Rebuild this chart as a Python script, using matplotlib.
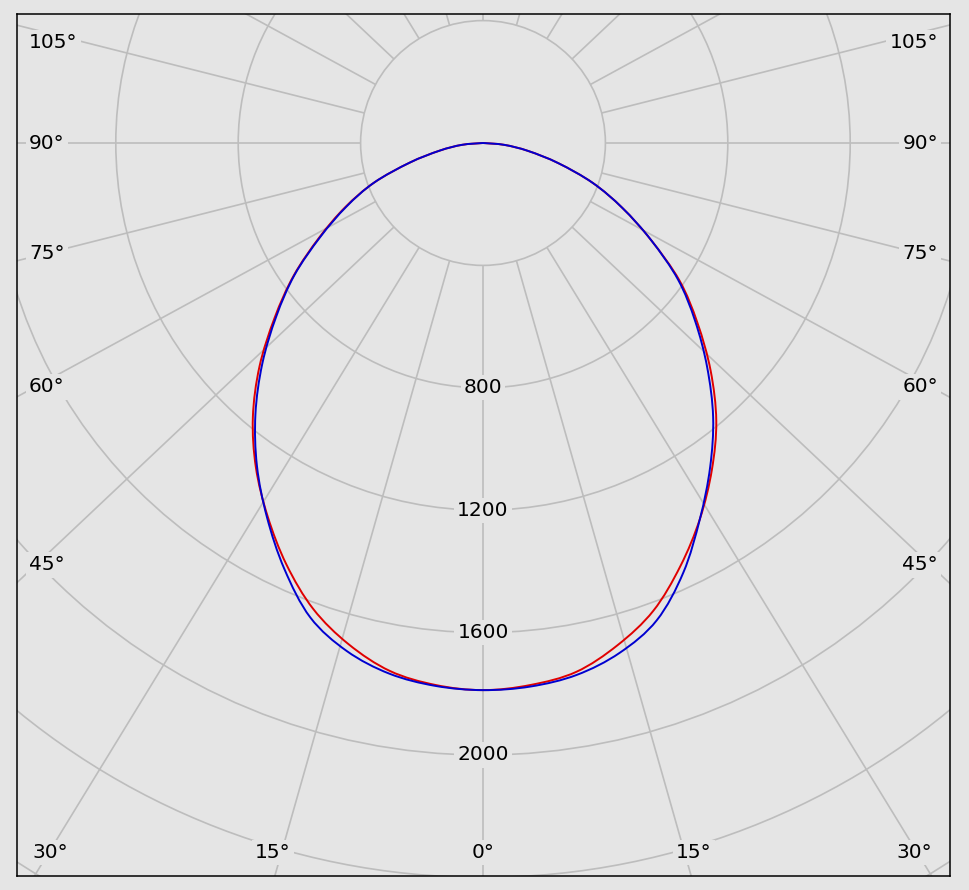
import numpy as np
import matplotlib
matplotlib.use("Agg")
import matplotlib.pyplot as plt
from matplotlib.patches import Circle, PathPatch
from matplotlib.path import Path

# ---- data (luminous intensity, cd) ----
angles = np.arange(0, 95, 5)  # gamma angles 0..90
c0 = [1788, 1778, 1755, 1699, 1627, 1526, 1418, 1304, 1186, 1052, 915, 784, 634, 503, 382, 255, 150, 70, 0]
c180 = [1788, 1778, 1752, 1696, 1621, 1520, 1408, 1294, 1170, 1033, 889, 755, 618, 497, 379, 248, 144, 69, 0]
c90 = [1788, 1783, 1765, 1725, 1660, 1549, 1418, 1294, 1170, 1036, 905, 778, 634, 503, 382, 255, 150, 70, 0]
c270 = [1788, 1781, 1761, 1719, 1650, 1536, 1412, 1288, 1157, 1020, 882, 752, 614, 493, 379, 248, 144, 69, 0]

ring_values = [400, 800, 1200, 1600, 2000, 2400, 2800]
ring_labels = ["800", "1200", "1600", "2000"]
spoke_angles = np.arange(0, 360, 15)

left_labels = ["105°", "90°", "75°", "60°", "45°"]
right_labels = ["105°", "90°", "75°", "60°", "45°"]
bottom_labels = ["30°", "15°", "0°", "15°", "30°"]

BG = "#e5e5e5"
GRID = "#bdbdbd"
RED = "#e00000"
BLUE = "#0000d0"

plt.rcParams["font.family"] = ["DejaVu Sans"]

fig = plt.figure(figsize=(9.69, 8.9), dpi=100, facecolor=BG)
ax = fig.add_axes([17 / 969, 14 / 890, 933 / 969, 862 / 890])
ax.set_facecolor(BG)
scale = 0.306  # px per cd
ax.set_xlim((17 - 483) / scale, (950 - 483) / scale)
ax.set_ylim((143 - 876) / scale, (143 - 14) / scale)
ax.set_xticks([])
ax.set_yticks([])
for s in ax.spines.values():
    s.set_color("black")
    s.set_linewidth(1.1)

# rings
for v in ring_values:
    ax.add_patch(Circle((0, 0), v, fill=False, ec=GRID, lw=1.2, zorder=1))

# spokes (drawn from the first ring outward)
k = 1.06
for a in spoke_angles:
    t = np.deg2rad(a)
    d = np.array([k * np.sin(t), -np.cos(t)])
    d = d / np.hypot(*d)
    ax.plot([ring_values[0] * d[0], 4000 * d[0]], [ring_values[0] * d[1], 4000 * d[1]],
            color=GRID, lw=1.2, zorder=1, solid_capstyle="butt")

# curves
th = np.deg2rad(angles)
def plane(right, left):
    r = np.asarray(right, float)
    l = np.asarray(left, float)
    x = np.concatenate([-(l * np.sin(th))[::-1], (r * np.sin(th))[1:]])
    y = np.concatenate([-(l * np.cos(th))[::-1], -(r * np.cos(th))[1:]])
    return x, y

def smooth_path(x, y):
    P = np.column_stack([x, y])
    n = len(P)
    verts = [P[0]]
    codes = [Path.MOVETO]
    for i in range(n - 1):
        p0 = P[i - 1] if i > 0 else P[i]
        p1, p2 = P[i], P[i + 1]
        p3 = P[i + 2] if i + 2 < n else P[i + 1]
        verts += [p1 + (p2 - p0) / 6, p2 - (p3 - p1) / 6, p2]
        codes += [Path.CURVE4] * 3
    return Path(verts, codes)

for (right, left), col, z in [((c0, c180), RED, 3), ((c90, c270), BLUE, 4)]:
    x, y = plane(right, left)
    ax.add_patch(PathPatch(smooth_path(x, y), fill=False, ec=col, lw=1.4, zorder=z))

box = dict(boxstyle="square,pad=0.15", fc=BG, ec="none")
fs = 14.5
for lab in ring_labels:
    ax.text(0, -float(lab), lab, ha="center", va="center", fontsize=fs, bbox=box, zorder=5)

ys_side = [0.9664, 0.8503, 0.7216, 0.5673, 0.3608]
for lab, yy in zip(left_labels, ys_side):
    ax.text(0.0129, yy, lab, transform=ax.transAxes, ha="left", va="center", fontsize=fs, bbox=box, zorder=5)
for lab, yy in zip(right_labels, ys_side):
    ax.text(0.9871, yy, lab, transform=ax.transAxes, ha="right", va="center", fontsize=fs, bbox=box, zorder=5)
xs_bottom = [0.0354, 0.2744, 0.4995, 0.7256, 0.9614]
for lab, xx in zip(bottom_labels, xs_bottom):
    ax.text(xx, 0.0278, lab, transform=ax.transAxes, ha="center", va="center", fontsize=fs, bbox=box, zorder=5)

fig.savefig("out.png", dpi=100, facecolor=BG)
